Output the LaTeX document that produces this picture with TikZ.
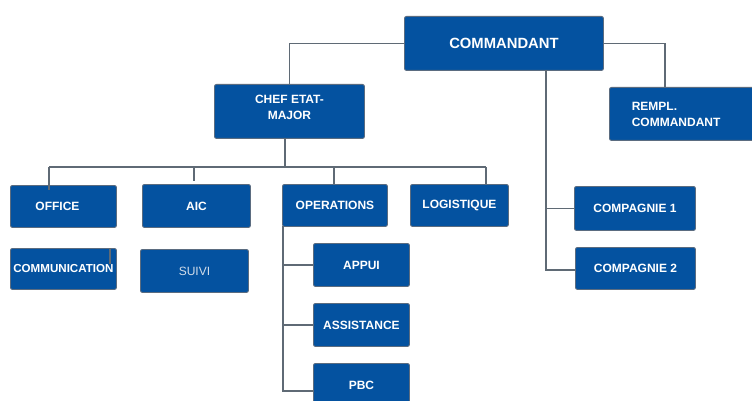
\documentclass[tikz,border=0pt]{standalone}
\usepackage{fontspec}
\setmainfont{Liberation Sans}
\definecolor{boxblue}{HTML}{0452A0}
\definecolor{boxedge}{HTML}{5B6C80}
\definecolor{linegray}{HTML}{5F6A75}
\definecolor{softtext}{HTML}{D2DDEA}
\begin{document}
\begin{tikzpicture}[x=1pt,y=-1pt,
  box/.style={draw=boxedge,line width=0.9pt,fill=boxblue,rounded corners=2pt,
    text=white,font=\fontsize{12}{16}\selectfont\bfseries,inner sep=0pt,anchor=north west,align=center},
  conn/.style={draw=linegray,line width=1.8pt}]
\clip (0,0) rectangle (752,401);
\fill[white] (0,0) rectangle (752,401);
% connector points
\coordinate (cr) at (665,43);
\coordinate (cv) at (546,70);
\coordinate (cvb) at (546,270);
\coordinate (bustop) at (285,138);
\coordinate (bus) at (285,167);
\coordinate (busL) at (49,167);
\coordinate (busR) at (486,167);
\coordinate (dOff) at (49,190);
\coordinate (dAic) at (194,167);
\coordinate (dAicE) at (194,181);
\coordinate (dOps) at (334,167);
\coordinate (dOpsE) at (334,184);
\coordinate (dLog) at (486,184);
\coordinate (ov) at (283,226);
\coordinate (ovb) at (283,391);
\coordinate (remplin) at (665,87);

% boxes
\node[box,minimum width=199,minimum height=54,font=\fontsize{14.8}{16}\selectfont\bfseries] (cmd) at (404,16) {COMMANDANT};
\node[box,minimum width=150,minimum height=54] (chef) at (214,84) {CHEF ETAT-\\MAJOR\\[-7pt]};
\node[box,minimum width=150,minimum height=53,align=left] (rempl) at (609,87) {REMPL.\hspace*{60pt}\\COMMANDANT\hspace*{14pt}};
\node[box,minimum width=106,minimum height=42] (office) at (10,185) {OFFICE\hspace*{12pt}};
\node[box,minimum width=108,minimum height=43] (aic) at (142,184) {AIC};
\node[box,minimum width=105,minimum height=42] (ops) at (282,184) {OPERATIONS};
\node[box,minimum width=98,minimum height=42] (log) at (410,184) {LOGISTIQUE};
\node[box,minimum width=106,minimum height=41,font=\fontsize{11.6}{15}\selectfont\bfseries] (comm) at (10,248) {COMMUNICATION};
\node[box,minimum width=108,minimum height=43,font=\fontsize{12}{15}\selectfont,text=softtext] (suivi) at (140,249) {SUIVI};
\node[box,minimum width=96,minimum height=43] (appui) at (313,243) {APPUI};
\node[box,minimum width=96,minimum height=43] (assist) at (313,303) {ASSISTANCE};
\node[box,minimum width=96,minimum height=44] (pbc) at (313,363) {PBC};
\node[box,minimum width=121,minimum height=44] (comp1) at (574,186) {COMPAGNIE 1};
\node[box,minimum width=120,minimum height=42] (comp2) at (575,247) {COMPAGNIE 2};

\draw[conn] (cmd.west) -| (chef.north);
\draw[conn] (cmd.east) -| (remplin);
\draw[conn] (bustop) -- (bus);
\draw[conn] (busL) -- (busR);
\draw[conn] (busL) -- (dOff);
\draw[conn] (dAic) -- (dAicE);
\draw[conn] (dOps) -- (dOpsE);
\draw[conn] (busR) -- (dLog);
\draw[conn] (cv) -- (cvb) -- (cvb -| comp2.west);
\draw[conn] (cv |- comp1.west) -- (comp1.west);
\draw[conn] (ov) -- (ovb) -- (pbc.west |- ovb);
\draw[conn] (ov |- appui.west) -- (appui.west);
\draw[conn] (ov |- assist.west) -- (assist.west);
\coordinate (cm1) at (110,248);
\coordinate (cm2) at (110,264);
\draw[conn,line width=1.2pt] (cm1) -- (cm2);
\end{tikzpicture}
\end{document}
